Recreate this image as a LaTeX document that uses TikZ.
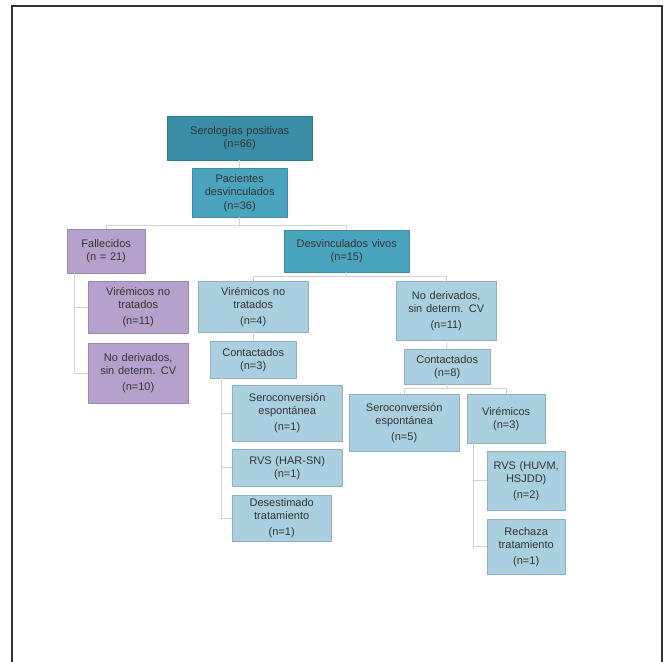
\documentclass[tikz,border=0pt]{standalone}
\usepackage{fontspec}
\setmainfont{Liberation Sans}

\definecolor{tealosc}{HTML}{3A8DA6}
\definecolor{tealmed}{HTML}{4AA4BE}
\definecolor{lila}{HTML}{B5A1CB}
\definecolor{celeste}{HTML}{A9CFE0}
\definecolor{gris}{HTML}{D2D2D2}

\begin{document}
\begin{tikzpicture}[x=1pt,y=-1pt]

    % estilos de cajas y lineas
    \tikzset{
        caja/.style={anchor=north west, fill=#1, draw=#1!85!black, line width=0.4pt,
            inner xsep=0pt, inner ysep=2pt, align=center, text=black!80,
            font=\fontsize{11}{13}\selectfont},
        linea/.style={draw=gris, line width=0.9pt},
        marco/.style={draw=black!80, line width=1.6pt}
    }

    % caja: estilo, nombre, x, y (esquina sup. izq.), ancho, alto, texto
    \newcommand{\caja}[7]{%
        \node[caja=#1, text width=#5pt, minimum height=#6pt] (#2) at (#3,#4) {#7};
    }

    \useasboundingbox (0,0) rectangle (665,662);

    % marco exterior
    \draw[marco] (12,662) |- (662,6) -- (662,662);

    % --- nivel 1 y 2 ---
    \caja{tealosc}{ser}{167}{116}{145}{44}{Serologías positivas\\(n=66)}
    \caja{tealmed}{pac}{192}{168}{95}{49}{Pacientes\\desvinculados\\[1pt](n=36)}

    % --- fallecidos ---
    \caja{lila}{fall}{67}{229}{78}{44}{Fallecidos\\(n = 21)}
    \caja{lila}{vnt1}{88}{281}{100}{52}{Virémicos no\\tratados\\[3pt](n=11)}
    \caja{lila}{nd1}{88}{343}{100}{60}{No derivados,\\sin determ. CV\\[3pt](n=10)}

    % --- desvinculados vivos ---
    \caja{tealmed}{viv}{284}{230}{125}{42}{Desvinculados vivos\\(n=15)}
    \caja{celeste}{vnt2}{198}{281}{110}{51}{Virémicos no\\tratados\\[3pt](n=4)}
    \caja{celeste}{nd2}{396}{281}{100}{59}{No derivados,\\sin determ. CV\\[3pt](n=11)}

    % rama izquierda
    \caja{celeste}{con3}{210}{341}{86}{37}{Contactados\\(n=3)}
    \caja{celeste}{se1}{232}{385}{110}{56}{Seroconversión\\espontánea\\[3pt](n=1)}
    \caja{celeste}{rvs1}{232}{449}{110}{37}{RVS (HAR-SN)\\(n=1)}
    \caja{celeste}{des}{232}{495}{99}{46}{Desestimado\\tratamiento\\[3pt](n=1)}

    % rama derecha
    \caja{celeste}{con8}{404}{349}{86}{35}{Contactados\\(n=8)}
    \caja{celeste}{se5}{349}{394}{110}{57}{Seroconversión\\espontánea\\[3pt](n=5)}
    \caja{celeste}{vir3}{467}{394}{78}{49}{Virémicos\\(n=3)}
    \caja{celeste}{rvs2}{487}{451}{78}{59}{RVS (HUVM,\\HSJDD)\\[3pt](n=2)}
    \caja{celeste}{rech}{487}{519}{78}{55}{Rechaza\\tratamiento\\[3pt](n=1)}

    % --- conectores ---
    \draw[linea] (ser) -- (pac);
    \coordinate (r1) at ([yshift=-8pt]pac.south);
    \draw[linea] (pac.south) -- (r1);
    \draw[linea] (fall.north) |- (r1) -| (viv.north);

    \coordinate (r2) at ([yshift=-4pt]viv.south);
    \draw[linea] (viv.south) -- (r2);
    \draw[linea] (vnt2.north) |- (r2) -| (nd2.north);

    \draw[linea] ([xshift=7pt]fall.south west) |- (vnt1.west);
    \draw[linea] ([xshift=7pt]fall.south west) |- (nd1.west);

    \draw[linea] (vnt2) -- (con3);
    \draw[linea] ([xshift=11pt]con3.south west) |- (se1.west);
    \draw[linea] ([xshift=11pt]con3.south west) |- (rvs1.west);
    \draw[linea] ([xshift=11pt]con3.south west) |- (des.west);

    \draw[linea] (nd2) -- (con8);
    \coordinate (r3) at ([yshift=-4pt]con8.south);
    \draw[linea] (con8.south) -- (r3);
    \draw[linea] (se5.north) |- (r3) -| (vir3.north);

    \draw[linea] ([xshift=6pt]vir3.south west) |- (rvs2.west);
    \draw[linea] ([xshift=6pt]vir3.south west) |- (rech.west);

\end{tikzpicture}
\end{document}
